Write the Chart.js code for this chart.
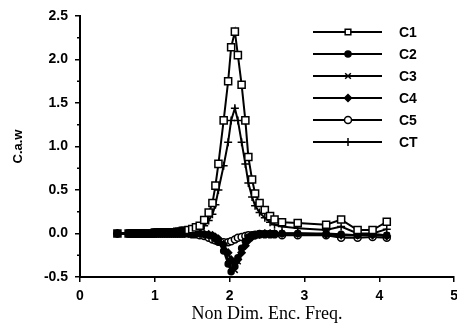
<!DOCTYPE html>
<html>
<head>
<meta charset="utf-8">
<script src="https://cdn.jsdelivr.net/npm/chart.js@4/dist/chart.umd.min.js"></script>
<style>
html, body { margin: 0; padding: 0; background: #fff; overflow: hidden; }
canvas { display: block; }
</style>
</head>
<body>
<canvas id="myChart" width="464" height="329"></canvas>
<script>
// frequencies; the low band is sampled densely
const freq = [0.5,
  0.65, 0.675, 0.7, 0.725, 0.75, 0.775, 0.8, 0.825, 0.85, 0.875, 0.9, 0.925, 0.95, 0.975,
  1.0, 1.025, 1.05, 1.075, 1.1, 1.125, 1.15, 1.175, 1.2, 1.225, 1.25, 1.275,
  1.3, 1.325, 1.35, 1.375, 1.4,
  1.45, 1.5, 1.55, 1.6,
  1.66, 1.72, 1.77, 1.81, 1.85, 1.92, 1.98, 2.02, 2.07, 2.11,
  2.16, 2.21, 2.25, 2.3, 2.34, 2.4, 2.47, 2.54, 2.6, 2.7,
  2.91, 3.29, 3.49, 3.71, 3.91, 4.1];

const c1 = [0,
  0, 0, 0, 0, 0, 0, 0, 0, 0, 0, 0, 0, 0, 0,
  0.01, 0.01, 0.01, 0.01, 0.01, 0.01, 0.01, 0.01, 0.01, 0.01, 0.01, 0.01,
  0.02, 0.02, 0.02, 0.03, 0.03,
  0.04, 0.05, 0.07, 0.09,
  0.155, 0.24, 0.35, 0.55, 0.8, 1.3, 1.75, 2.14, 2.32, 2.05,
  1.71, 1.3, 0.88, 0.62, 0.46, 0.35, 0.27, 0.2, 0.16, 0.13,
  0.12, 0.1, 0.16, 0.04, 0.04, 0.135];
const c2 = [0,
  0, 0, 0, 0, 0, 0, 0, 0, 0, 0, 0, 0, 0, 0,
  0, 0, 0, 0, 0, 0, 0, 0, 0, 0, 0, 0,
  0, 0, 0, 0, 0,
  0, 0, 0, 0,
  -0.01, -0.02, -0.03, -0.06, -0.1, -0.2, -0.35, -0.44, -0.38, -0.28,
  -0.17, -0.09, -0.04, -0.02, -0.01, 0, 0, 0, 0, 0,
  0, 0, -0.01, -0.02, -0.01, -0.02];
const c3 = [0,
  0, 0, 0, 0, 0, 0, 0, 0, 0, 0, 0, 0, 0, 0,
  0, 0, 0, 0, 0, 0, 0, 0, 0, 0, 0, 0,
  0, 0, 0, 0, 0,
  0, 0, 0, 0,
  -0.01, -0.02, -0.03, -0.05, -0.08, -0.17, -0.3, -0.4, -0.42, -0.32,
  -0.2, -0.11, -0.06, -0.03, -0.01, 0, 0, 0, 0, 0,
  0, -0.01, -0.02, -0.02, -0.01, -0.02];
const c4 = [0,
  0, 0, 0, 0, 0, 0, 0, 0, 0, 0, 0, 0, 0, 0,
  0, 0, 0, 0, 0, 0, 0, 0, 0, 0, 0, 0,
  0, 0, 0, 0, 0,
  0, 0, 0, 0,
  -0.01, -0.01, -0.02, -0.04, -0.06, -0.12, -0.22, -0.3, -0.34, -0.3,
  -0.22, -0.14, -0.08, -0.04, -0.02, -0.01, 0, 0, 0, 0,
  0, -0.01, -0.02, -0.02, -0.02, -0.03];
const c5 = [0,
  0, 0, 0, 0, 0, 0, 0, 0, 0, 0, 0, 0, 0, 0,
  0, 0, 0, 0, 0, 0, 0, 0, 0, 0, 0, 0,
  0, 0, 0, 0, 0,
  0, -0.01, -0.01, -0.02,
  -0.03, -0.05, -0.07, -0.08, -0.09, -0.1, -0.1, -0.09, -0.07, -0.05,
  -0.04, -0.03, -0.02, -0.02, -0.02, -0.01, -0.01, -0.01, -0.01, -0.02,
  -0.02, -0.02, -0.05, -0.05, -0.04, -0.05];
const ct = [0,
  0, 0, 0, 0, 0, 0, 0, 0, 0, 0, 0, 0, 0, 0,
  0, 0, 0, 0, 0, 0, 0, 0, 0, 0, 0, 0,
  0, 0, 0.01, 0.01, 0.01,
  0.02, 0.02, 0.03, 0.05,
  0.09, 0.15, 0.22, 0.33, 0.5, 0.78, 1.05, 1.3, 1.44, 1.3,
  1.05, 0.8, 0.58, 0.42, 0.32, 0.24, 0.18, 0.13, 0.1, 0.08,
  0.06, 0.04, 0.08, 0, 0, 0.05];

const seriesNames = ['C1', 'C2', 'C3', 'C4', 'C5', 'CT'];
const yTicks = [-0.5, 0, 0.5, 1, 1.5, 2, 2.5];
const xTicks = [0, 1, 2, 3, 4, 5];

Chart.defaults.font.family = '"Liberation Sans", Arial, sans-serif';
Chart.defaults.color = '#000';

function series(name, vals, style, radius, fill) {
  return {
    label: name,
    legendFill: fill,
    data: freq.map((f, i) => ({ x: f, y: vals[i] })),
    borderColor: '#000',
    borderWidth: 2,
    pointStyle: style,
    pointRadius: radius,
    // in the crowded low band the open symbols run together into a solid bar
    pointBackgroundColor: c => (c.raw && c.raw.x < 1.45 ? '#000' : fill),
    pointBorderColor: '#000',
    pointBorderWidth: 1.5,
    tension: 0
  };
}

// legend with a line through the marker, top right
const lineLegend = {
  id: 'lineLegend',
  afterDraw(chart) {
    const ctx = chart.ctx;
    chart.data.datasets.forEach((ds, i) => {
      const y = 32 + i * 22;
      ctx.save();
      ctx.strokeStyle = '#000';
      ctx.lineWidth = 2;
      ctx.beginPath();
      ctx.moveTo(313, y);
      ctx.lineTo(382, y);
      ctx.stroke();
      ctx.fillStyle = ds.legendFill;
      ctx.lineWidth = 1.5;
      Chart.helpers.drawPoint(ctx, { pointStyle: ds.pointStyle, radius: Math.min(ds.pointRadius, 4), borderWidth: 1.5, rotation: 0 }, 348, y);
      ctx.fillStyle = '#000';
      ctx.font = 'bold 14px "Liberation Sans", Arial, sans-serif';
      ctx.textBaseline = 'middle';
      ctx.fillText(ds.label, 399, y + 1);
      ctx.restore();
    });
  }
};

// small ticks between the labelled ones on the y axis
const minorTicks = {
  id: 'minorTicks',
  afterDraw(chart) {
    const ctx = chart.ctx;
    const ys = chart.scales.y;
    const x0 = chart.chartArea.left;
    ctx.save();
    ctx.strokeStyle = '#000';
    ctx.lineWidth = 1.5;
    for (let i = 0; i < yTicks.length - 1; i++) {
      const py = ys.getPixelForValue((yTicks[i] + yTicks[i + 1]) / 2);
      ctx.beginPath();
      ctx.moveTo(x0 - 3, py);
      ctx.lineTo(x0, py);
      ctx.stroke();
    }
    ctx.restore();
  }
};

const ctx = document.getElementById('myChart').getContext('2d');

new Chart(ctx, {
  type: 'line',
  data: {
    datasets: [
      series(seriesNames[0], c1, 'rect', 5, '#fff'),
      series(seriesNames[1], c2, 'circle', 3, '#000'),
      series(seriesNames[2], c3, 'crossRot', 4, '#000'),
      series(seriesNames[3], c4, 'rectRot', 3.5, '#000'),
      series(seriesNames[4], c5, 'circle', 3.5, '#fff'),
      series(seriesNames[5], ct, 'cross', 4, '#000')
    ]
  },
  options: {
    responsive: false,
    animation: false,
    layout: { padding: { top: 16, right: 0, left: 0, bottom: 0 } },
    plugins: {
      legend: { display: false },
      tooltip: { enabled: false }
    },
    scales: {
      x: {
        type: 'linear',
        min: 0,
        max: 5,
        afterBuildTicks: s => { s.ticks = xTicks.map(v => ({ value: v })); },
        afterFit: s => { s.height = 52; },
        grid: { drawOnChartArea: false, tickLength: 5, color: '#000', lineWidth: 1.5 },
        border: { color: '#000', width: 2 },
        ticks: { font: { size: 14, weight: 'bold' }, padding: 6 },
        title: {
          display: true,
          text: 'Non Dim. Enc. Freq.',
          font: { family: '"Liberation Serif", "Times New Roman", serif', size: 18 },
          padding: { top: 0, bottom: 4 }
        }
      },
      y: {
        min: -0.5,
        max: 2.5,
        afterBuildTicks: s => { s.ticks = yTicks.map(v => ({ value: v })); },
        afterFit: s => { s.width = 80; },
        grid: { drawOnChartArea: false, tickLength: 5, color: '#000', lineWidth: 1.5 },
        border: { color: '#000', width: 2 },
        ticks: { font: { size: 14, weight: 'bold' }, padding: 7, callback: v => v.toFixed(1) },
        title: {
          display: true,
          text: 'C.a.w',
          font: { size: 13, weight: 'bold' },
          padding: { top: 11, bottom: 0 }
        }
      }
    }
  },
  plugins: [lineLegend, minorTicks]
});
</script>
</body>
</html>
